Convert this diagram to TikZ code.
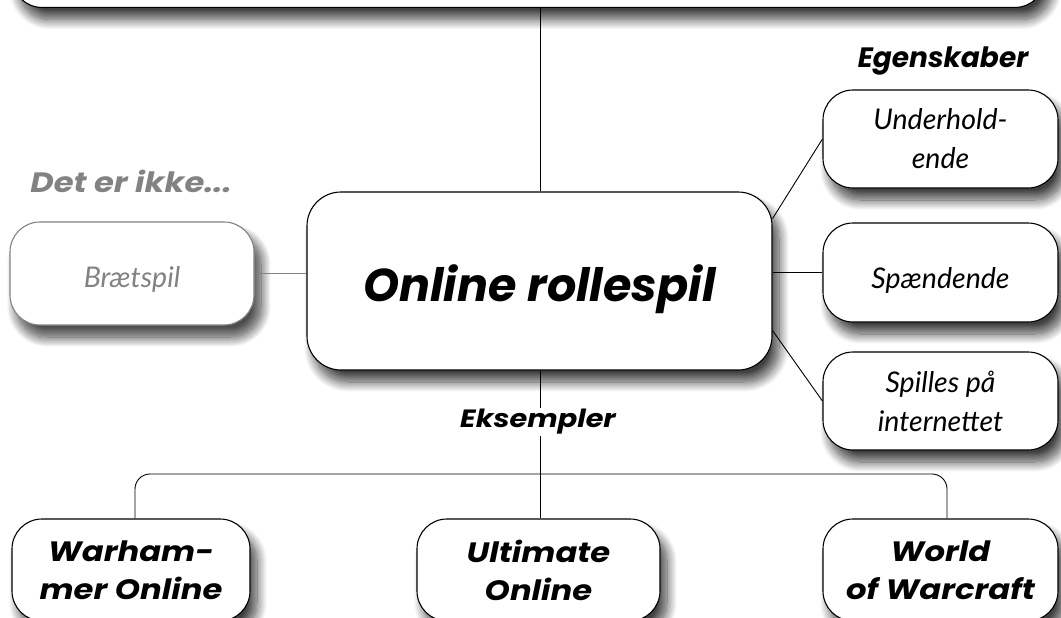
\documentclass[tikz,border=0pt]{standalone}
\usepackage{fontspec}
\setmainfont{Lato}
\newfontfamily\heavy{Poppins}
\newfontfamily\heavyw{Poppins}[FakeStretch=1.15]
\usetikzlibrary{shadows.blur,calc}
\definecolor{greytxt}{HTML}{828282}
\tikzset{
  shad/.style={blur shadow={shadow xshift=7pt, shadow yshift=-12pt, shadow blur radius=10pt, shadow opacity=75, shadow blur steps=16}},
  box/.style={draw=black, line width=1.1pt, fill=white, rounded corners=30pt, align=center, inner sep=2pt,
    font=\itshape\fontsize{28.5}{39}\selectfont, shad},
  onebox/.style={box, text depth=0pt},
  bbox/.style={box, font=\heavyw\bfseries\itshape\fontsize{28}{38}\selectfont},
  gbox/.style={onebox, draw=greytxt, text=greytxt, blur shadow={shadow xshift=7pt, shadow yshift=-12pt, shadow blur radius=10pt, shadow opacity=45, shadow blur steps=16}},
  lbl/.style={font=\heavyw\bfseries\itshape\fontsize{25}{30}\selectfont, inner sep=1pt},
  link/.style={draw=black, line width=0.9pt},
}
\begin{document}
\begin{tikzpicture}[x=1pt,y=-1pt]
\useasboundingbox (0,0) rectangle (1061,618);
% top box (cut off)
\node[box, minimum width=1033pt, minimum height=140pt, anchor=south] (topbox) at (528.5,8) {};
% main
\node[onebox, minimum width=465pt, minimum height=178pt, rounded corners=34pt, text height=40pt,
      font=\heavy\bfseries\itshape\fontsize{46}{50}\selectfont] (main) at (539.5,281) {Online rollespil};
% right column
\node[lbl, anchor=base, font=\heavy\bfseries\itshape\fontsize{28}{30}\selectfont] (egen) at (943,67) {Egenskaber};
\node[box, minimum width=235pt, minimum height=98pt] (under) at (940.5,139) {Underhold-\\ende};
\node[onebox, minimum width=235pt, minimum height=99pt, text height=32pt] (spaend) at (940.5,272.5) {Spændende};
\node[box, minimum width=235pt, minimum height=98pt] (spill) at (940.5,401) {Spilles på\\internettet};
% left
\node[lbl, text=greytxt, font=\heavyw\bfseries\itshape\fontsize{28}{30}\selectfont] (ikke) at (131,181) {Det er ikke...};
\node[gbox, minimum width=244pt, minimum height=103pt, text height=27pt] (braet) at (132,273.5) {Brætspil};
% bottom
\node[lbl] (eks) at (538,422) {Eksempler};
\node[bbox, minimum width=238pt, minimum height=102pt] (warh) at (131,570) {Warham-\\mer Online};
\node[bbox, minimum width=243pt, minimum height=102pt] (ult) at (538.5,570) {Ultimate\\Online};
\node[bbox, minimum width=235pt, minimum height=102pt] (world) at (940.5,570) {World\\of Warcraft};
\coordinate (bus) at (540,474);
% connectors
\draw[link] (main.north -| 540,0) -- (topbox.south -| 540,0);
\draw[link] (main.15) -- (under.west);
\draw[link] (spaend.west) -- (spaend.west -| main.east);
\draw[link] (main.-12) -- (spill.west);
\draw[link, draw=greytxt] (braet.east) -- (braet.east -| main.west);
\draw[link] (main.south -| 540,0) -- (eks.north -| 540,0);
\draw[link] (eks.south -| 540,0) -- (ult.north -| 540,0);
\draw[link, rounded corners=15pt] ($(warh.north)+(4,0)$) |- (bus) -| ($(world.north)+(6.5,0)$);
\end{tikzpicture}
\end{document}
